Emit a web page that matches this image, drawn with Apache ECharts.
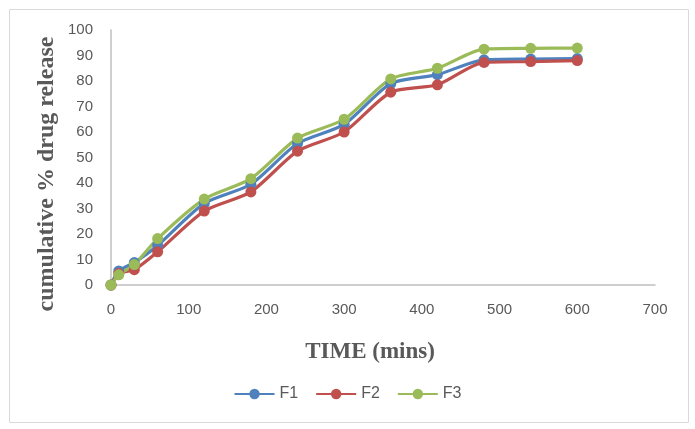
<!DOCTYPE html>
<html lang="en">

<head>
    <meta charset="UTF-8">
    <title>cumulative % drug release</title>
    <script src="https://cdn.jsdelivr.net/npm/echarts@6/dist/echarts.min.js"></script>
    <style>
        html, body { margin: 0; padding: 0; background: #fff; }
        #main { width: 695px; height: 429px; }
    </style>
</head>

<body>
    <div id="main"></div>
    <script>
        // time points (mins)
        var times = [0, 10, 30, 60, 120, 180, 240, 300, 360, 420, 480, 540, 600];
        // cumulative % drug release per formulation
        var f1 = [0, 5.5, 8.8, 15.5, 32, 39.5, 55.5, 63, 79, 82.5, 88.3, 88.6, 88.8];
        var f2 = [0, 4.5, 6, 13, 29, 36.5, 52.5, 60, 75.6, 78.5, 87.3, 87.6, 88];
        var f3 = [0, 4, 8, 18.2, 33.7, 41.7, 57.6, 65, 80.8, 85, 92.5, 92.8, 92.9];
        var names = ['F1', 'F2', 'F3'];
        var colors = ['#4F81BD', '#C0504D', '#9BBB59'];

        function pairs(vals) {
            return times.map(function (t, i) { return [t, vals[i]]; });
        }

        var chart = echarts.init(document.getElementById('main'));

        var series = [f1, f2, f3].map(function (vals, i) {
            return {
                name: names[i],
                type: 'line',
                data: pairs(vals),
                smooth: 0.25,
                symbol: 'circle',
                symbolSize: 11,
                lineStyle: { width: 3.2, color: colors[i] },
                itemStyle: { color: colors[i] }
            };
        });

        var titleFont = 'Liberation Serif';

        var option = {
            animation: false,
            graphic: [{
                type: 'rect',
                shape: { x: 9.5, y: 9.5, width: 679, height: 413 },
                style: { fill: 'none', stroke: '#d9d9d9', lineWidth: 1 },
                silent: true
            }, {
                // y axis title
                type: 'text',
                x: 47,
                y: 174,
                rotation: Math.PI / 2,
                style: {
                    text: 'cumulative % drug release',
                    font: 'bold 24px "' + titleFont + '"',
                    fill: '#595959',
                    textAlign: 'center',
                    textVerticalAlign: 'middle'
                },
                silent: true
            }, {
                // x axis title
                type: 'text',
                x: 370,
                y: 352,
                style: {
                    text: 'TIME (mins)',
                    font: 'bold 23px "' + titleFont + '"',
                    fill: '#595959',
                    textAlign: 'center',
                    textVerticalAlign: 'middle'
                },
                silent: true
            }],
            grid: { left: 111, right: 40, top: 30, bottom: 144 },
            legend: {
                data: names,
                top: 381,
                left: 'center',
                itemWidth: 40,
                itemHeight: 13,
                itemGap: 17,
                textStyle: { color: '#595959', fontSize: 16, fontFamily: 'Liberation Sans' }
            },
            xAxis: {
                type: 'value',
                min: 0,
                max: 700,
                interval: 100,
                axisLine: { lineStyle: { color: '#bfbfbf', width: 1.5 } },
                axisTick: { show: false },
                splitLine: { show: false },
                axisLabel: { color: '#595959', fontSize: 15, fontFamily: 'Liberation Sans', margin: 17 }
            },
            yAxis: {
                type: 'value',
                min: 0,
                max: 100,
                interval: 10,
                axisLine: { show: true, lineStyle: { color: '#bfbfbf', width: 1.5 } },
                axisTick: { show: false },
                splitLine: { show: false },
                axisLabel: { color: '#595959', fontSize: 15, fontFamily: 'Liberation Sans', margin: 18 }
            },
            series: series
        };

        chart.setOption(option);
    </script>
</body>

</html>
